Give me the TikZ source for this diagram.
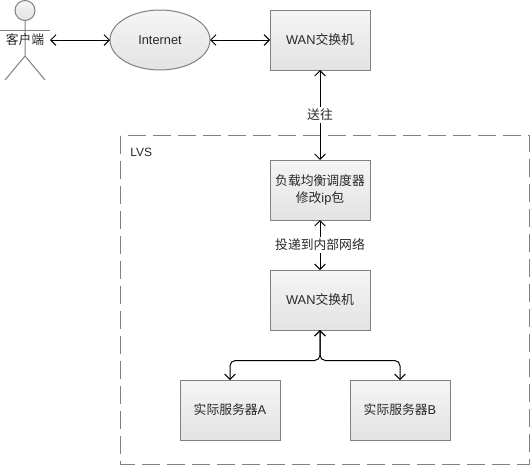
\documentclass[tikz,border=0pt]{standalone}
\usepackage{fontspec}
\setmainfont{Liberation Sans}
\newfontfamily\cjk{Noto Sans CJK SC}
\usetikzlibrary{shapes.geometric, arrows.meta}
\definecolor{edgegray}{RGB}{128,128,128}
\definecolor{labelgray}{RGB}{40,40,40}
\tikzset{
    box/.style={draw=edgegray, top color=gray!8, bottom color=gray!22, text=labelgray, font=\fontsize{9.6}{12.5}\selectfont, align=center, minimum width=75pt, minimum height=45pt, inner sep=0pt, outer sep=0pt, line width=0.75pt},
    cloud/.style={box, ellipse},
    link/.style={{Straight Barb[length=4pt,width=8pt]}-{Straight Barb[length=4pt,width=8pt]}, black, line width=0.75pt},
    linklabel/.style={fill=white, text=labelgray, font=\fontsize{9.6}{12.5}\selectfont, inner sep=1.5pt},
    actorline/.style={draw=edgegray, line width=0.75pt},
    groupbox/.style={draw=edgegray, dashed, dash pattern=on 13.5pt off 5.25pt, line width=0.75pt}
}

\begin{document}
\begin{tikzpicture}[x=0.75pt, y=-0.75pt]
    \useasboundingbox (0,0) rectangle (530,465);
    \fill[white] (0,0) rectangle (530,465);
    % LVS group
    \draw[groupbox] (120.5,135.5) rectangle (529.5,464);
    \node[text=labelgray, font=\fontsize{9}{12}\selectfont, anchor=west, inner sep=0pt] (lvs) at (130,152) {LVS};
    % client
    \node[circle, actorline, top color=gray!8, bottom color=gray!22, minimum size=15pt, inner sep=0pt, outer sep=0pt] (head) at (25,10.5) {};
    \coordinate (hip) at (25,56);
    \coordinate (armleft) at (0,30);
    \coordinate (armright) at (50,30);
    \coordinate (footleft) at (5,80);
    \coordinate (footright) at (45,80);
    \draw[actorline] (head.south) -- (hip) -- (footleft);
    \draw[actorline] (hip) -- (footright);
    \draw[actorline] (armleft) -- (armright);
    \node[text=labelgray, font=\fontsize{9.6}{12.5}\selectfont\cjk, minimum width=37.5pt, inner sep=0pt, outer sep=0pt] (client) at (25,40) {客户端};
    % nodes
    \node[cloud] (internet) at (160,40) {Internet};
    \node[box] (wantop) at (320,40) {WAN{\cjk 交换机}};
    \node[box] (balancer) at (320,190) {\cjk 负载均衡调度器\\{\cjk 修改}ip{\cjk 包}};
    \node[box] (waninner) at (320,300) {WAN{\cjk 交换机}};
    \node[box] (servera) at (230,410) {{\cjk 实际服务器}A};
    \node[box] (serverb) at (400,410) {{\cjk 实际服务器}B};
    \coordinate (split) at (320,360.5);
    % connectors
    \draw[link] (client) -- (internet);
    \draw[link] (internet) -- (wantop);
    \draw[link] (wantop) -- node[linklabel] (sendlabel) {\cjk 送往} (balancer);
    \draw[link] (balancer) -- node[linklabel] (innerlabel) {\cjk 投递到内部网络} (waninner);
    \draw[link, rounded corners=4pt] (servera.north) |- (split) -- (waninner.south);
    \draw[link, rounded corners=4pt] (serverb.north) |- (split) -- (waninner.south);
\end{tikzpicture}
\end{document}
